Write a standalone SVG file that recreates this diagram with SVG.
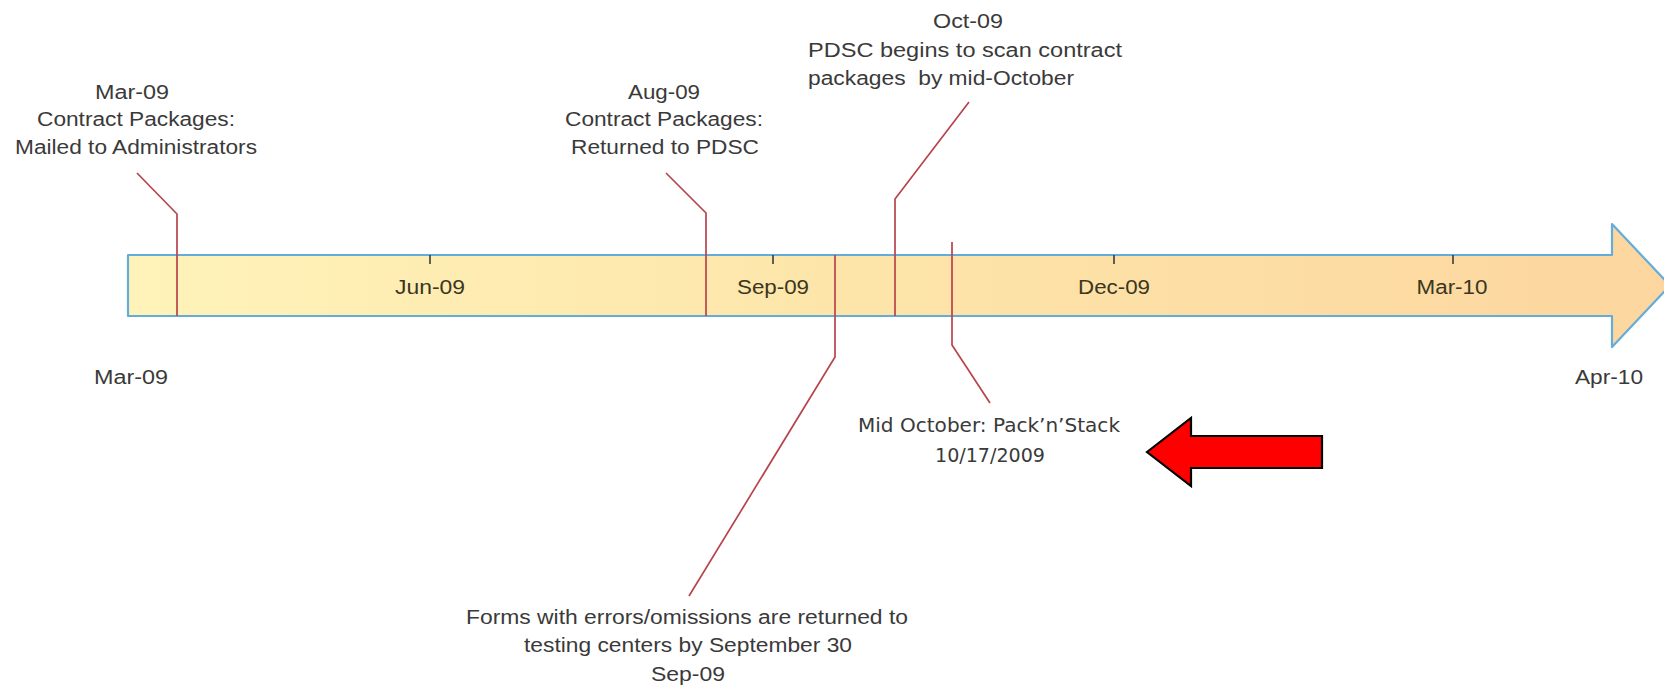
<svg xmlns="http://www.w3.org/2000/svg" width="1664" height="686" viewBox="0 0 1664 686">
<defs>
<linearGradient id="barGrad" x1="0" y1="0" x2="1" y2="0">
<stop offset="0" stop-color="#fff3ba"/>
<stop offset="0.5" stop-color="#fde4a8"/>
<stop offset="1" stop-color="#fcd69e"/>
</linearGradient>
<style>
.t{font-family:"Liberation Sans",Arial,sans-serif;font-size:20px;fill:#3a3a3a;text-anchor:middle}
.tl{font-family:"Liberation Sans",Arial,sans-serif;font-size:20px;fill:#3a3a3a;text-anchor:start;white-space:pre}
.tb{font-family:"Liberation Sans",Arial,sans-serif;font-size:20px;fill:#3a3620;text-anchor:middle}
.tv{font-family:"DejaVu Sans",Verdana,sans-serif;font-size:19px;fill:#3a3a3a;text-anchor:middle}
.lead{fill:none;stroke:#b8444c;stroke-width:1.7}
.tick{stroke:#3a3a3a;stroke-width:1.6}
</style>
</defs>
<rect width="1664" height="686" fill="#ffffff"/>

<g id="timeline">
<path d="M128,255 L1612,255 L1612,224 L1670,285.5 L1612,347 L1612,316 L128,316 Z" fill="url(#barGrad)" stroke="#64acd9" stroke-width="2.2" stroke-linejoin="round"/>
<line class="tick" x1="430" y1="255" x2="430" y2="264"/>
<line class="tick" x1="773" y1="255" x2="773" y2="264"/>
<line class="tick" x1="1114" y1="255" x2="1114" y2="264"/>
<line class="tick" x1="1453" y1="255" x2="1453" y2="264"/>
<text class="tb" x="430" y="294" textLength="70" lengthAdjust="spacingAndGlyphs">Jun-09</text>
<text class="tb" x="773" y="294" textLength="72" lengthAdjust="spacingAndGlyphs">Sep-09</text>
<text class="tb" x="1114" y="294" textLength="72" lengthAdjust="spacingAndGlyphs">Dec-09</text>
<text class="tb" x="1452" y="294" textLength="71" lengthAdjust="spacingAndGlyphs">Mar-10</text>
<text class="t" x="131" y="384" textLength="74" lengthAdjust="spacingAndGlyphs">Mar-09</text>
<text class="t" x="1609" y="384" textLength="68" lengthAdjust="spacingAndGlyphs">Apr-10</text>
</g>

<g id="connectors">
<polyline class="lead" points="137,173 177,214 177,316"/>
<polyline class="lead" points="666,173 706,213 706,316"/>
<polyline class="lead" points="969,102 895,199 895,316"/>
<polyline class="lead" points="835,255 835,357 689,596"/>
<polyline class="lead" points="952,242 952,345 990,403"/>
</g>

<g id="event-mar09">
<text class="t" x="132" y="99" textLength="74" lengthAdjust="spacingAndGlyphs">Mar-09</text>
<text class="t" x="136" y="126" textLength="198" lengthAdjust="spacingAndGlyphs">Contract Packages:</text>
<text class="t" x="136" y="154" textLength="242" lengthAdjust="spacingAndGlyphs">Mailed to Administrators</text>
</g>

<g id="event-aug09">
<text class="t" x="664" y="99" textLength="72" lengthAdjust="spacingAndGlyphs">Aug-09</text>
<text class="t" x="664" y="126" textLength="198" lengthAdjust="spacingAndGlyphs">Contract Packages:</text>
<text class="t" x="665" y="154" textLength="188" lengthAdjust="spacingAndGlyphs">Returned to PDSC</text>
</g>

<g id="event-oct09">
<text class="t" x="968" y="28" textLength="70" lengthAdjust="spacingAndGlyphs">Oct-09</text>
<text class="tl" x="808" y="57" textLength="314" lengthAdjust="spacingAndGlyphs">PDSC begins to scan contract</text>
<text class="tl" x="808" y="85" textLength="266" lengthAdjust="spacingAndGlyphs" xml:space="preserve">packages  by mid-October</text>
</g>

<g id="event-sep30">
<text class="t" x="687" y="624" textLength="442" lengthAdjust="spacingAndGlyphs">Forms with errors/omissions are returned to</text>
<text class="t" x="688" y="652" textLength="328" lengthAdjust="spacingAndGlyphs">testing centers by September 30</text>
<text class="t" x="688" y="681" textLength="74" lengthAdjust="spacingAndGlyphs">Sep-09</text>
</g>

<g id="event-packnstack">
<text class="tv" x="989" y="432" textLength="262" lengthAdjust="spacingAndGlyphs">Mid October: Pack’n’Stack</text>
<text class="tv" x="990" y="462" textLength="110" lengthAdjust="spacingAndGlyphs">10/17/2009</text>
</g>

<g id="red-arrow">
<path d="M1147,452 L1191,418 L1191,436 L1322,436 L1322,468 L1191,468 L1191,486 Z" fill="#ff0000" stroke="#000000" stroke-width="2.2" stroke-linejoin="miter"/>
</g>
</svg>
